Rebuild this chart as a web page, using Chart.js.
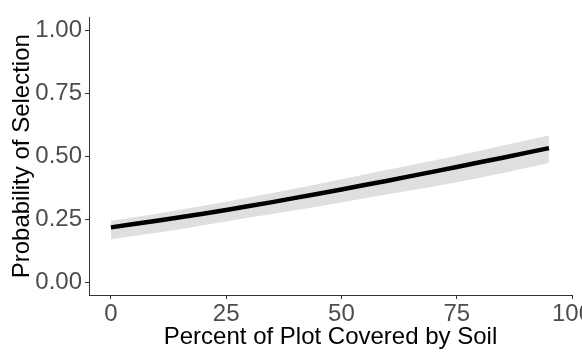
<!DOCTYPE html>
<html>
<head>
<meta charset="utf-8">
<script src="https://cdn.jsdelivr.net/npm/chart.js@4"></script>
<style>
    html, body { margin: 0; padding: 0; background: #fff; overflow: hidden; }
    canvas { display: block; }
</style>
</head>
<body>
<canvas id="soilChart" width="600" height="352"></canvas>
<script>
// Percent of plot covered by soil vs. fitted probability (with confidence band)
const soilPct   = [0, 5, 10, 15, 20, 25, 30, 35, 40, 45, 50, 55, 60, 65, 70, 75, 80, 85, 90, 95];
const fitProb   = [0.218, 0.231, 0.244, 0.258, 0.272, 0.287, 0.303, 0.318, 0.335, 0.351, 0.368, 0.386, 0.403, 0.421, 0.439, 0.457, 0.476, 0.494, 0.513, 0.532];
const upperProb = [0.244, 0.258, 0.272, 0.288, 0.304, 0.320, 0.337, 0.354, 0.372, 0.390, 0.409, 0.427, 0.446, 0.464, 0.483, 0.502, 0.522, 0.542, 0.562, 0.582];
const lowerProb = [0.171, 0.184, 0.197, 0.211, 0.226, 0.241, 0.257, 0.271, 0.286, 0.301, 0.317, 0.333, 0.349, 0.364, 0.380, 0.397, 0.415, 0.433, 0.453, 0.473];
const xTicks = [0, 25, 50, 75, 100];
const yTicks = [0, 0.25, 0.5, 0.75, 1];

const toPoints = (vals) => soilPct.map((x, i) => ({ x: x, y: vals[i] }));

const axisColor = '#333333';
const tickFont = { family: 'Liberation Sans, Arial, sans-serif', size: 24 };
const titleFont = { family: 'Liberation Sans, Arial, sans-serif', size: 24 };

new Chart(document.getElementById('soilChart'), {
    type: 'line',
    data: {
        datasets: [{
            label: 'Fit',
            data: toPoints(fitProb),
            borderColor: '#000000',
            borderWidth: 4.5,
            pointRadius: 0,
            fill: false,
            order: 0
        }, {
            label: 'Upper',
            data: toPoints(upperProb),
            borderWidth: 0,
            borderColor: 'rgba(0,0,0,0)',
            backgroundColor: '#dfdfdf',
            pointRadius: 0,
            fill: '+1',
            order: 1
        }, {
            label: 'Lower',
            data: toPoints(lowerProb),
            borderWidth: 0,
            borderColor: 'rgba(0,0,0,0)',
            pointRadius: 0,
            fill: false,
            order: 2
        }]
    },
    options: {
        responsive: false,
        animation: false,
        layout: {
            padding: { left: 4, top: 8, right: 28, bottom: 0 }
        },
        plugins: {
            legend: { display: false },
            tooltip: { enabled: false }
        },
        scales: {
            x: {
                type: 'linear',
                min: -4.75,
                max: 100,
                afterBuildTicks: (scale) => { scale.ticks = xTicks.map(v => ({ value: v })); },
                afterFit: (scale) => { scale.height = 57; },
                grid: { drawOnChartArea: false, drawTicks: true, tickLength: 4, color: axisColor },
                border: { display: true, color: axisColor, width: 1 },
                ticks: {
                    color: '#4d4d4d',
                    font: tickFont,
                    padding: 1,
                    maxRotation: 0,
                    callback: (v) => String(v)
                },
                title: {
                    display: true,
                    text: 'Percent of Plot Covered by Soil',
                    color: '#000000',
                    font: titleFont,
                    padding: { top: 0, bottom: 0 }
                }
            },
            y: {
                min: -0.05,
                max: 1.05,
                afterBuildTicks: (scale) => { scale.ticks = yTicks.map(v => ({ value: v })); },
                afterFit: (scale) => { scale.width = 85; },
                grid: { drawOnChartArea: false, drawTicks: true, tickLength: 4, color: axisColor },
                border: { display: true, color: axisColor, width: 1 },
                ticks: {
                    color: '#4d4d4d',
                    font: tickFont,
                    padding: 3,
                    callback: (v) => v.toFixed(2)
                },
                title: {
                    display: true,
                    text: 'Probability of Selection',
                    color: '#000000',
                    font: titleFont
                }
            }
        }
    }
});
</script>
</body>
</html>
